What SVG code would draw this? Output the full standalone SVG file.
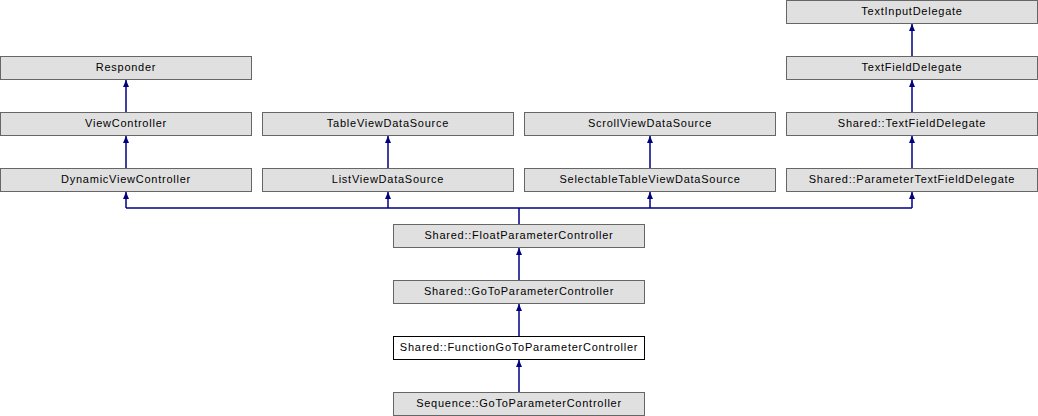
<svg xmlns="http://www.w3.org/2000/svg" width="1038" height="416" viewBox="0 0 1038 416">
<style>
rect.n{fill:#e0e0e0;stroke:#666666;stroke-width:1}
rect.cur{fill:#ffffff;stroke:#000000;stroke-width:1}
text{font-family:"Liberation Sans",Arial,sans-serif;font-size:11px;letter-spacing:0.75px;fill:#000;text-anchor:middle}
.e{fill:none;stroke:#000080;stroke-width:1.5}
</style>
<defs>
<marker id="a" viewBox="0 0 7 6" refX="7" refY="3" markerWidth="7" markerHeight="6" markerUnits="userSpaceOnUse" orient="auto">
<path d="M0,0 L7,3 L0,6 Z" fill="#000080"/>
</marker>
</defs>
<rect width="1038" height="416" fill="#ffffff"/>
<g id="edges">
<path class="e" d="M126,112V80" marker-end="url(#a)"/>
<path class="e" d="M126,168V136" marker-end="url(#a)"/>
<path class="e" d="M388,168V136" marker-end="url(#a)"/>
<path class="e" d="M650,168V136" marker-end="url(#a)"/>
<path class="e" d="M912,56V24" marker-end="url(#a)"/>
<path class="e" d="M912,112V80" marker-end="url(#a)"/>
<path class="e" d="M912,168V136" marker-end="url(#a)"/>
<path class="e" d="M519,224V208M126,208H912"/>
<path class="e" d="M126,208V192" marker-end="url(#a)"/>
<path class="e" d="M388,208V192" marker-end="url(#a)"/>
<path class="e" d="M650,208V192" marker-end="url(#a)"/>
<path class="e" d="M912,208V192" marker-end="url(#a)"/>
<path class="e" d="M519,280V248" marker-end="url(#a)"/>
<path class="e" d="M519,336V304" marker-end="url(#a)"/>
<path class="e" d="M519,392V360" marker-end="url(#a)"/>
</g>
<g id="TextInputDelegate"><rect class="n" x="786.5" y="0.5" width="251" height="23"/><text x="912" y="15">TextInputDelegate</text></g>
<g id="Responder"><rect class="n" x="0.5" y="56.5" width="251" height="23"/><text x="126" y="71">Responder</text></g>
<g id="TextFieldDelegate"><rect class="n" x="786.5" y="56.5" width="251" height="23"/><text x="912" y="71">TextFieldDelegate</text></g>
<g id="ViewController"><rect class="n" x="0.5" y="112.5" width="251" height="23"/><text x="126" y="127">ViewController</text></g>
<g id="TableViewDataSource"><rect class="n" x="262.5" y="112.5" width="251" height="23"/><text x="388" y="127">TableViewDataSource</text></g>
<g id="ScrollViewDataSource"><rect class="n" x="524.5" y="112.5" width="251" height="23"/><text x="650" y="127">ScrollViewDataSource</text></g>
<g id="SharedTextFieldDelegate"><rect class="n" x="786.5" y="112.5" width="251" height="23"/><text x="912" y="127">Shared::TextFieldDelegate</text></g>
<g id="DynamicViewController"><rect class="n" x="0.5" y="168.5" width="251" height="23"/><text x="126" y="183">DynamicViewController</text></g>
<g id="ListViewDataSource"><rect class="n" x="262.5" y="168.5" width="251" height="23"/><text x="388" y="183">ListViewDataSource</text></g>
<g id="SelectableTableViewDataSource"><rect class="n" x="524.5" y="168.5" width="251" height="23"/><text x="650" y="183">SelectableTableViewDataSource</text></g>
<g id="SharedParameterTextFieldDelegate"><rect class="n" x="786.5" y="168.5" width="251" height="23"/><text x="912" y="183">Shared::ParameterTextFieldDelegate</text></g>
<g id="SharedFloatParameterController"><rect class="n" x="393.5" y="224.5" width="251" height="23"/><text x="519" y="239">Shared::FloatParameterController</text></g>
<g id="SharedGoToParameterController"><rect class="n" x="393.5" y="280.5" width="251" height="23"/><text x="519" y="295">Shared::GoToParameterController</text></g>
<g id="SharedFunctionGoToParameterController"><rect class="cur" x="393.5" y="336.5" width="251" height="23"/><text x="519" y="351">Shared::FunctionGoToParameterController</text></g>
<g id="SequenceGoToParameterController"><rect class="n" x="393.5" y="392.5" width="251" height="23"/><text x="519" y="407">Sequence::GoToParameterController</text></g>
</svg>
